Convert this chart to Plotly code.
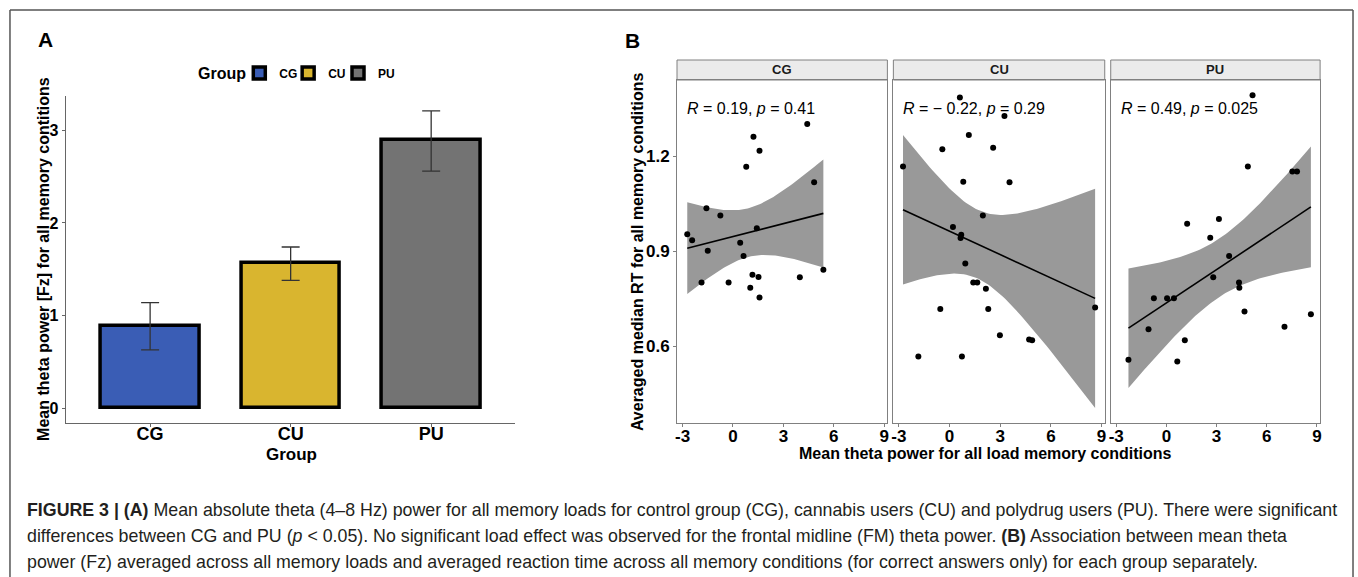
import numpy as np
import plotly.graph_objects as go

W, H = 1358, 577

# ---------------- Panel A data ----------------
groups = ["CG", "CU", "PU"]
bar_colors = ["#3A5DB5", "#D9B52F", "#737373"]
theta_mean = [0.89, 1.57, 2.90]
theta_upper = [1.14, 1.74, 3.21]
theta_lower = [0.63, 1.38, 2.56]

# ---------------- Panel B data ----------------
cg_x = [-2.72, -2.43, -1.58, -1.50, -1.87, -0.75, -0.26, 0.43, 0.63, 0.79, 1.22,
        1.58, 1.42, 1.16, 1.52, 1.03, 1.58, 3.98, 4.42, 4.83, 5.38]
cg_y = [0.953, 0.934, 1.035, 0.901, 0.801, 1.012, 0.801, 0.926, 0.884, 1.166, 1.261,
        1.217, 0.972, 0.825, 0.818, 0.784, 0.753, 0.817, 1.301, 1.117, 0.841]

cu_x = [0.61, 3.25, 1.14, -0.43, 2.58, -2.76, 0.81, 3.55, 1.97, 0.20, 0.69, 0.65,
        0.93, 1.40, 1.64, 2.15, -0.55, 2.29, 2.98, 4.71, 4.89, -1.85, 0.73, 8.62]
cu_y = [1.385, 1.326, 1.266, 1.221, 1.226, 1.167, 1.119, 1.117, 1.012, 0.976, 0.951, 0.941,
        0.861, 0.801, 0.801, 0.781, 0.717, 0.717, 0.634, 0.621, 0.618, 0.567, 0.567, 0.722]

pu_x = [5.15, 4.87, 7.53, 7.81, 1.24, 3.14, 2.62, 3.75, 2.80, 4.34, 4.36, -0.75,
        0.04, 0.45, 4.67, 8.64, 7.06, -1.07, 1.10, -2.27, 0.65]
pu_y = [1.392, 1.167, 1.151, 1.151, 0.986, 1.001, 0.942, 0.884, 0.817, 0.801, 0.784, 0.751,
        0.751, 0.751, 0.709, 0.700, 0.661, 0.653, 0.618, 0.557, 0.551]

facet_names = ["CG", "CU", "PU"]
cor_labels = ["<i>R</i> = 0.19, <i>p</i> = 0.41",
              "<i>R</i> = \u2212 0.22, <i>p</i> = 0.29",
              "<i>R</i> = 0.49, <i>p</i> = 0.025"]
x_ticks = [-3, 0, 3, 6, 9]
y_ticks = [0.6, 0.9, 1.2]

FONT = "Liberation Sans, Arial, Helvetica, sans-serif"


def px_x(p):
    return p / W


def px_y(p):
    return 1 - p / H


def t975(df):
    z = 1.959963985
    g1 = (z**3 + z) / 4
    g2 = (5 * z**5 + 16 * z**3 + 3 * z) / 96
    g3 = (3 * z**7 + 19 * z**5 + 17 * z**3 - 15 * z) / 384
    return z + g1 / df + g2 / df**2 + g3 / df**3


def lm_band(x, y, n_out=80):
    x = np.asarray(x, float)
    y = np.asarray(y, float)
    n = len(x)
    b1, b0 = np.polyfit(x, y, 1)
    resid = y - (b0 + b1 * x)
    s = np.sqrt(np.sum(resid**2) / (n - 2))
    xm = x.mean()
    sxx = np.sum((x - xm) ** 2)
    xs = np.linspace(x.min(), x.max(), n_out)
    fit = b0 + b1 * xs
    se = s * np.sqrt(1 / n + (xs - xm) ** 2 / sxx)
    t = t975(n - 2)
    return xs, fit, fit - t * se, fit + t * se


fig = go.Figure()

# ---------------- Panel A ----------------
xpos = [1, 2, 3]
legend_ids = ["legend", "legend2", "legend3"]
for i, g in enumerate(groups):
    fig.add_trace(go.Bar(
        x=[xpos[i]], y=[theta_mean[i]], name=g, width=0.7,
        marker=dict(color=bar_colors[i], line=dict(color="black", width=3.5)),
        error_y=dict(type="data", symmetric=False,
                     array=[theta_upper[i] - theta_mean[i]],
                     arrayminus=[theta_mean[i] - theta_lower[i]],
                     color="#333333", thickness=1.3, width=9),
        xaxis="x", yaxis="y", showlegend=True, legend=legend_ids[i],
    ))

# ---------------- Panel B ----------------
data_sets = [(cg_x, cg_y), (cu_x, cu_y), (pu_x, pu_y)]
for k, (xx, yy) in enumerate(data_sets):
    ax = str(k + 2)
    xs, fit, lo, hi = lm_band(xx, yy)
    fig.add_trace(go.Scatter(
        x=np.concatenate([xs, xs[::-1]]), y=np.concatenate([hi, lo[::-1]]),
        fill="toself", fillcolor="#999999", line=dict(width=0), mode="lines",
        hoverinfo="skip", showlegend=False, xaxis="x" + ax, yaxis="y" + ax))
    fig.add_trace(go.Scatter(
        x=xs, y=fit, mode="lines", line=dict(color="black", width=1.6),
        showlegend=False, xaxis="x" + ax, yaxis="y" + ax))
    fig.add_trace(go.Scatter(
        x=xx, y=yy, mode="markers", marker=dict(color="black", size=6),
        showlegend=False, xaxis="x" + ax, yaxis="y" + ax))

# ---------------- Layout ----------------
leg_common = dict(orientation="h", yanchor="middle", y=px_y(73), xanchor="left",
                  font=dict(family=FONT, size=12, weight="bold"), itemwidth=30,
                  bgcolor="rgba(0,0,0,0)", borderwidth=0)
layout = dict(
    width=W, height=H, margin=dict(l=0, r=0, t=0, b=0),
    paper_bgcolor="white", plot_bgcolor="white",
    font=dict(family=FONT, color="black"),
    bargap=0,
    legend=dict(leg_common, x=px_x(238)),
    legend2=dict(leg_common, x=px_x(287)),
    legend3=dict(leg_common, x=px_x(337)),
    xaxis=dict(domain=[px_x(64), px_x(515)], range=[0.4, 3.6], tickvals=xpos,
               ticktext=["<b>%s</b>" % g for g in groups], showline=True, linecolor="#666666",
               linewidth=1.3, ticks="outside", ticklen=3, tickcolor="#666666",
               ticklabelstandoff=-9,
               tickfont=dict(family=FONT, size=18), showgrid=False, zeroline=False),
    yaxis=dict(domain=[px_y(423), px_y(96)], range=[-0.16, 3.37], tickvals=[0, 1, 2, 3],
               ticktext=["<b>%d</b>" % v for v in [0, 1, 2, 3]], showline=True,
               linecolor="#666666", linewidth=1.3, ticks="outside", ticklen=3,
               tickcolor="#666666", tickfont=dict(family=FONT, size=16), showgrid=False,
               zeroline=False, anchor="x"),
)

facet_px = [(677, 888), (894, 1106), (1112, 1322)]
for k, (l, r) in enumerate(facet_px):
    ax = str(k + 2)
    layout["xaxis" + ax] = dict(
        domain=[px_x(l), px_x(r)], range=[-3.33, 9.19], anchor="y" + ax,
        tickvals=x_ticks, ticktext=["<b>%d</b>" % v for v in x_ticks],
        showline=True, mirror=True, linecolor="#808080", linewidth=1,
        ticks="outside", ticklen=3, tickcolor="#808080", ticklabelstandoff=-5,
        tickfont=dict(family=FONT, size=17, color="black"),
        showgrid=False, zeroline=False)
    layout["yaxis" + ax] = dict(
        domain=[px_y(423), px_y(80)], range=[0.357, 1.44], anchor="x" + ax,
        tickvals=y_ticks, ticktext=["<b>%.1f</b>" % v for v in y_ticks],
        showticklabels=(k == 0), showline=True, mirror=True, linecolor="#808080",
        linewidth=1, ticks="outside" if k == 0 else "", ticklen=3, tickcolor="#808080",
        tickfont=dict(family=FONT, size=17, color="black"), showgrid=False, zeroline=False)
fig.update_layout(**layout)

shapes = []
annotations = []
for k, (l, r) in enumerate(facet_px):
    shapes.append(dict(type="rect", xref="paper", yref="paper", x0=px_x(l), x1=px_x(r),
                       y0=px_y(80), y1=px_y(60), fillcolor="#EBEBEB",
                       line=dict(color="#808080", width=1), layer="below"))
    annotations.append(dict(xref="paper", yref="paper", x=px_x((l + r) / 2), y=px_y(70),
                            text="<b>%s</b>" % facet_names[k], showarrow=False,
                            font=dict(family=FONT, size=13, color="#1a1a1a"),
                            xanchor="center", yanchor="middle"))
    annotations.append(dict(xref="x" + str(k + 2), yref="y" + str(k + 2), x=-2.85, y=1.35,
                            text=cor_labels[k], showarrow=False, xanchor="left",
                            yanchor="middle", font=dict(family=FONT, size=16, color="black")))

# frame
shapes.append(dict(type="line", xref="paper", yref="paper", x0=px_x(8), x1=px_x(1355),
                   y0=px_y(10), y1=px_y(10), line=dict(color="#555555", width=1.5)))
shapes.append(dict(type="line", xref="paper", yref="paper", x0=px_x(8), x1=px_x(8),
                   y0=px_y(10), y1=0, line=dict(color="#555555", width=1.5)))
shapes.append(dict(type="line", xref="paper", yref="paper", x0=px_x(1355), x1=px_x(1355),
                   y0=px_y(10), y1=0, line=dict(color="#555555", width=1.5)))

# legend title
annotations.append(dict(xref="paper", yref="paper", x=px_x(247), y=px_y(73),
                        text="<b>Group</b>", showarrow=False, font=dict(family=FONT, size=16),
                        xanchor="right", yanchor="middle"))
# panel labels
annotations.append(dict(xref="paper", yref="paper", x=px_x(44), y=px_y(40), text="<b>A</b>",
                        showarrow=False, font=dict(family=FONT, size=21), xanchor="center",
                        yanchor="middle"))
annotations.append(dict(xref="paper", yref="paper", x=px_x(632), y=px_y(41), text="<b>B</b>",
                        showarrow=False, font=dict(family=FONT, size=21), xanchor="center",
                        yanchor="middle"))
# axis titles
annotations.append(dict(xref="paper", yref="paper", x=px_x(290), y=px_y(454),
                        text="<b>Group</b>", showarrow=False, font=dict(family=FONT, size=17),
                        xanchor="center", yanchor="middle"))
annotations.append(dict(xref="paper", yref="paper", x=px_x(41), y=px_y(259),
                        text="<b>Mean theta power [Fz] for all memory contitions</b>",
                        showarrow=False, font=dict(family=FONT, size=16), textangle=-90,
                        xanchor="center", yanchor="middle"))
annotations.append(dict(xref="paper", yref="paper", x=px_x(637), y=px_y(252),
                        text="<b>Averaged median RT for all memory conditions</b>",
                        showarrow=False, font=dict(family=FONT, size=16), textangle=-90,
                        xanchor="center", yanchor="middle"))
annotations.append(dict(xref="paper", yref="paper", x=px_x(986), y=px_y(453),
                        text="<b>Mean theta power for all load memory conditions</b>",
                        showarrow=False, font=dict(family=FONT, size=16), xanchor="center",
                        yanchor="middle"))

caption_lines = [
    "<b>FIGURE 3 | (A)</b> Mean absolute theta (4\u20138 Hz) power for all memory loads for control group (CG), cannabis users (CU) and polydrug users (PU). There were significant",
    "differences between CG and PU (<i>p</i> < 0.05). No significant load effect was observed for the frontal midline (FM) theta power. <b>(B)</b> Association between mean theta",
    "power (Fz) averaged across all memory loads and averaged reaction time across all memory conditions (for correct answers only) for each group separately.",
]
for i, line in enumerate(caption_lines):
    annotations.append(dict(xref="paper", yref="paper", x=px_x(23), y=px_y(510 + 26 * i),
                            text=line, showarrow=False, xanchor="left", yanchor="middle",
                            font=dict(family=FONT, size=17.8, color="#231f20")))

fig.update_layout(shapes=shapes, annotations=annotations)
fig.write_html("out.html", post_script="document.body.style.margin='0';",
               config={"displayModeBar": False})
